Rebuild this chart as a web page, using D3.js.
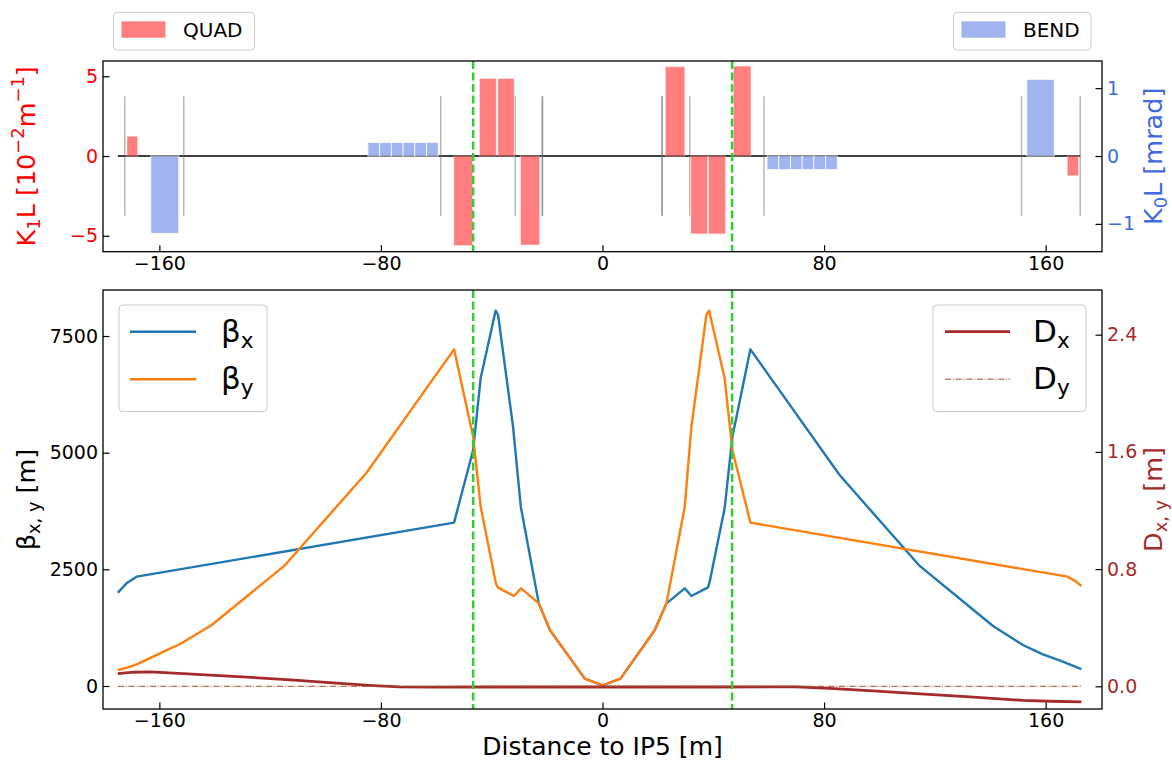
<!DOCTYPE html>
<html>
<head>
<meta charset="utf-8">
<script src="https://cdn.jsdelivr.net/npm/d3@7"></script>
<style>
  html, body { margin: 0; padding: 0; background: #ffffff; }
  svg { display: block; font-family: "DejaVu Sans", sans-serif; }
</style>
</head>
<body>
<script>
// ---------------- DATA ----------------
const xTicks = [-160, -80, 0, 80, 160];
const k1Ticks = [-5, 0, 5];
const k0Ticks = [-1, 0, 1];
const betaTicks = [0, 2500, 5000, 7500];
const dispTicks = [0, 0.8, 1.6, 2.4];

// Quadrupoles (K1L, 10^-2 m^-1)
const quadStart = [-171.7, -53.7, -44.4, -37.8, -29.6, 22.7, 31.9, 38.3, 47.3, 167.8];
const quadEnd   = [-167.8, -46.9, -38.4, -31.9, -22.7, 29.7, 37.9, 44.4, 53.6, 171.9];
const quadK1L   = [1.24, -5.62, 4.86, 4.86, -5.58, 5.6, -4.88, -4.88, 5.64, -1.24];

// Bends (K0L, mrad)
const bendStart = [-163.1, -84.7, -80.47, -76.23, -72.0, -67.77, -63.53, 59.4, 63.63, 67.87, 72.1, 76.33, 80.57, 153.2];
const bendEnd   = [-153.0, -80.47, -76.23, -72.0, -67.77, -63.53, -59.3, 63.63, 67.87, 72.1, 76.33, 80.57, 84.8, 163.1];
const bendK0L   = [-1.14, 0.2, 0.2, 0.2, 0.2, 0.2, 0.2, -0.2, -0.2, -0.2, -0.2, -0.2, -0.2, 1.13];

// Marker positions (duplicates overlap)
const markerPos = [-172.5, -151.2, -58.4, -31.5, -21.7, -21.7, 21.5, 21.5, 31.5, 58.3, 151.3, 172.5];
const markerHalf = 3.75;              // in K1L units
const latticeRange = [-175, 172.5];
const ipMarkers = [-46.7, 46.8];

// Beta functions
const betaXs = [-175, -171.6, -168.2, -53.6, -46.7, -44.0, -38.6, -37.7, -32.3, -29.5, -23.0, -19.0, -6.4, 0, 6.5, 18.9, 23.1, 29.7, 32.1, 38.1, 38.7, 44.1, 46.9, 53.4, 85.6, 114.3, 141.0, 151.8, 159.0, 166.2, 172.9];
const betaX  = [2000, 2214, 2343, 3500, 5057, 6593, 8043, 7950, 5557, 3843, 1771, 1200, 157, 14, 157, 1200, 1771, 2093, 1929, 2114, 2236, 3807, 5343, 7214, 4521, 2586, 1286, 879, 679, 521, 364];
const betaYs = [-175, -171.6, -168.2, -159.8, -152.5, -141.1, -114.7, -85.2, -53.6, -46.7, -44.0, -38.5, -37.7, -32.0, -29.4, -23.0, -19.0, -6.4, 0, 6.5, 18.9, 23.1, 29.7, 32.1, 37.5, 38.5, 44.1, 46.9, 53.4, 168.0, 171.0, 172.9];
const betaY  = [343, 393, 464, 700, 900, 1307, 2586, 4571, 7214, 5343, 3843, 2200, 2107, 1929, 2093, 1771, 1200, 157, 14, 157, 1200, 1771, 3843, 5557, 7950, 8043, 6593, 5057, 3500, 2343, 2236, 2143];

// Dispersion
const dispXs = [-175, -169.4, -163.4, -151.4, -133.4, -114, -97.3, -82.8, -73.2, -61, -40, 0, 40, 70, 82, 97.7, 113.3, 132.6, 151.8, 161.5, 172.9];
const dispX  = [0.087, 0.096, 0.098, 0.087, 0.068, 0.046, 0.023, 0.005, -0.004, -0.006, -0.005, -0.005, -0.005, -0.004, -0.014, -0.031, -0.050, -0.072, -0.096, -0.102, -0.107];
const dispYs = [-175, 172.9];
const dispY  = [0, 0];

// ---------------- LAYOUT ----------------
const W = 1172, H = 760;
const L = 103, R = 1102;
const topT = 61, topB = 251.7;
const botT = 290, botB = 709;
const tickFont = 19, labelFont = 25.5;

const svg = d3.select("body").append("svg").attr("width", W).attr("height", H);

const x = d3.scaleLinear().domain([-180.35, 180.35]).range([L, R]);
const yK1 = d3.scaleLinear().domain([-6.0, 5.96]).range([topB, topT]);
const yK0 = d3.scaleLinear().domain([-1.41, 1.40]).range([topB, topT]);
const yB  = d3.scaleLinear().domain([-493, 8486]).range([botB, botT]);
const yD  = d3.scaleLinear().domain([-0.155, 2.705]).range([botB, botT]);

function rich(sel, parts, F) {
  let cur = 0;
  parts.forEach(([t, m]) => {
    const target = m === "sub" ? 0.2 * F : (m === "sup" ? -0.4 * F : 0);
    sel.append("tspan").attr("dy", target - cur).attr("font-size", m === "n" ? F : 0.7 * F).text(t);
    cur = target;
  });
}

function styleAxis(g, color) {
  g.select(".domain").remove();
  g.selectAll(".tick line").attr("stroke", "#000").attr("stroke-width", 1.2);
  g.selectAll(".tick text").attr("fill", color).attr("font-size", tickFont).attr("font-family", "DejaVu Sans");
}

const TS = -6.5;
const ipStyle = sel => sel.attr("stroke", "#32cd32").attr("stroke-width", 2.5).attr("stroke-dasharray", "8,3.5");

// ---------------- TOP PANEL ----------------
const topG = svg.append("g");

topG.append("line")
  .attr("x1", x(latticeRange[0])).attr("x2", x(latticeRange[1]))
  .attr("y1", yK1(0)).attr("y2", yK1(0))
  .attr("stroke", "#000").attr("stroke-width", 1.6);

topG.selectAll(".marker").data(markerPos).join("line")
  .attr("x1", d => x(d)).attr("x2", d => x(d))
  .attr("y1", yK1(markerHalf)).attr("y2", yK1(-markerHalf))
  .attr("stroke", "#707070").attr("stroke-opacity", 0.5).attr("stroke-width", 1.5);

const bends = bendStart.map((s, i) => ({ s, e: bendEnd[i], v: bendK0L[i] }));
topG.selectAll(".bend").data(bends).join("rect")
  .attr("x", d => x(d.s)).attr("width", d => x(d.e) - x(d.s))
  .attr("y", d => Math.min(yK0(d.v), yK0(0)))
  .attr("height", d => Math.abs(yK0(d.v) - yK0(0)))
  .attr("fill", "royalblue").attr("fill-opacity", 0.5)
  .attr("stroke", "white").attr("stroke-opacity", 0.8).attr("stroke-width", 1);

const quads = quadStart.map((s, i) => ({ s, e: quadEnd[i], v: quadK1L[i] }));
topG.selectAll(".quad").data(quads).join("rect")
  .attr("x", d => x(d.s)).attr("width", d => x(d.e) - x(d.s))
  .attr("y", d => Math.min(yK1(d.v), yK1(0)))
  .attr("height", d => Math.abs(yK1(d.v) - yK1(0)))
  .attr("fill", "red").attr("fill-opacity", 0.5)
  .attr("stroke", "white").attr("stroke-opacity", 0.5).attr("stroke-width", 0.8);

topG.selectAll(".ip").data(ipMarkers).join("line")
  .attr("x1", d => x(d)).attr("x2", d => x(d))
  .attr("y1", topT).attr("y2", topB)
  .call(ipStyle);

topG.append("rect").attr("x", L).attr("y", topT).attr("width", R - L).attr("height", topB - topT)
  .attr("fill", "none").attr("stroke", "#000").attr("stroke-width", 1.3);

styleAxis(topG.append("g").attr("transform", `translate(0,${topB})`)
  .call(d3.axisBottom(x).tickValues(xTicks).tickSize(TS).tickPadding(5).tickFormat(d3.format("d"))), "#000");
styleAxis(topG.append("g").attr("transform", `translate(${L},0)`)
  .call(d3.axisLeft(yK1).tickValues(k1Ticks).tickSize(TS).tickPadding(5).tickFormat(d3.format("d"))), "red");
styleAxis(topG.append("g").attr("transform", `translate(${R},0)`)
  .call(d3.axisRight(yK0).tickValues(k0Ticks).tickSize(TS).tickPadding(5).tickFormat(d3.format("d"))), "royalblue");

rich(svg.append("text").attr("transform", `translate(34.5,${(topT + topB) / 2}) rotate(-90)`)
  .attr("text-anchor", "middle").attr("fill", "red").attr("font-size", labelFont),
  [["K", "n"], ["1", "sub"], ["L [10", "n"], ["\u22122", "sup"], ["m", "n"], ["\u22121", "sup"], ["]", "n"]], labelFont);
rich(svg.append("text").attr("transform", `translate(1161.5,${(topT + topB) / 2}) rotate(-90)`)
  .attr("text-anchor", "middle").attr("fill", "royalblue").attr("font-size", labelFont),
  [["K", "n"], ["0", "sub"], ["L [mrad]", "n"]], labelFont);

function patchLegend(bx, bw, color, label) {
  const g = svg.append("g");
  g.append("rect").attr("x", bx).attr("y", 12.3).attr("width", bw).attr("height", 37.7).attr("rx", 4)
    .attr("fill", "white").attr("fill-opacity", 0.8).attr("stroke", "#cccccc").attr("stroke-width", 1);
  g.append("rect").attr("x", bx + 8).attr("y", 21.3).attr("width", 44).attr("height", 16.4)
    .attr("fill", color).attr("fill-opacity", 0.5);
  g.append("text").attr("x", bx + 69.5).attr("y", 36.5).attr("font-size", 20).attr("fill", "#000").text(label);
}
patchLegend(113.5, 141, "red", "QUAD");
patchLegend(953.5, 137.5, "royalblue", "BEND");

// ---------------- BOTTOM PANEL ----------------
const botG = svg.append("g");

const lineB = (xs) => d3.line().x((d, i) => x(xs[i])).y(d => yB(d));
const lineD = (xs) => d3.line().x((d, i) => x(xs[i])).y(d => yD(d));

botG.append("path").datum(betaX).attr("d", lineB(betaXs))
  .attr("fill", "none").attr("stroke", "#1f77b4").attr("stroke-width", 2.4).attr("stroke-linejoin", "round");
botG.append("path").datum(betaY).attr("d", lineB(betaYs))
  .attr("fill", "none").attr("stroke", "#ff7f0e").attr("stroke-width", 2.4).attr("stroke-linejoin", "round");
botG.append("path").datum(dispX).attr("d", lineD(dispXs))
  .attr("fill", "none").attr("stroke", "#a52a2a").attr("stroke-width", 2.8).attr("stroke-linejoin", "round");
botG.append("path").datum(dispY).attr("d", lineD(dispYs))
  .attr("fill", "none").attr("stroke", "#a0522d").attr("stroke-width", 1).attr("stroke-dasharray", "6.4,1.6,1,1.6");

botG.selectAll(".ip").data(ipMarkers).join("line")
  .attr("x1", d => x(d)).attr("x2", d => x(d))
  .attr("y1", botT).attr("y2", botB)
  .call(ipStyle);

botG.append("rect").attr("x", L).attr("y", botT).attr("width", R - L).attr("height", botB - botT)
  .attr("fill", "none").attr("stroke", "#000").attr("stroke-width", 1.3);

styleAxis(botG.append("g").attr("transform", `translate(0,${botB})`)
  .call(d3.axisBottom(x).tickValues(xTicks).tickSize(TS).tickPadding(4.5).tickFormat(d3.format("d"))), "#000");
styleAxis(botG.append("g").attr("transform", `translate(${L},0)`)
  .call(d3.axisLeft(yB).tickValues(betaTicks).tickSize(TS).tickPadding(5).tickFormat(d3.format("d"))), "#000");
styleAxis(botG.append("g").attr("transform", `translate(${R},0)`)
  .call(d3.axisRight(yD).tickValues(dispTicks).tickSize(TS).tickPadding(5).tickFormat(d3.format(".1f"))), "#a52a2a");

rich(svg.append("text").attr("transform", `translate(34.5,${(botT + botB) / 2}) rotate(-90)`)
  .attr("text-anchor", "middle").attr("fill", "#000").attr("font-size", labelFont),
  [["\u03b2", "n"], ["x, y", "sub"], [" [m]", "n"]], labelFont);
rich(svg.append("text").attr("transform", `translate(1161.5,${(botT + botB) / 2}) rotate(-90)`)
  .attr("text-anchor", "middle").attr("fill", "#a52a2a").attr("font-size", labelFont),
  [["D", "n"], ["x, y", "sub"], [" [m]", "n"]], labelFont);

svg.append("text").attr("x", 602.5).attr("y", 754.5).attr("text-anchor", "middle")
  .attr("font-size", 25).attr("fill", "#000").text("Distance to IP5 [m]");

function lineLegend(bx, bw, lx1, lx2, tx, entries) {
  const g = svg.append("g");
  g.append("rect").attr("x", bx).attr("y", 305).attr("width", bw).attr("height", 106.5).attr("rx", 4)
    .attr("fill", "white").attr("fill-opacity", 0.8).attr("stroke", "#cccccc").attr("stroke-width", 1);
  entries.forEach((e, i) => {
    const cy = 331.7 + i * 47.5;
    g.append("line").attr("x1", lx1).attr("x2", lx2).attr("y1", cy).attr("y2", cy)
      .attr("stroke", e.color).attr("stroke-width", e.w).attr("stroke-dasharray", e.dash || null);
    rich(g.append("text").attr("x", tx).attr("y", cy + 9.8).attr("fill", "#000").attr("font-size", 31),
      [[e.main, "n"], [e.sub, "sub"]], 31);
  });
}
lineLegend(119, 148, 130, 196, 221, [
  { color: "#1f77b4", w: 2.4, main: "\u03b2", sub: "x" },
  { color: "#ff7f0e", w: 2.4, main: "\u03b2", sub: "y" }
]);
lineLegend(933, 153, 945, 1010, 1033, [
  { color: "#a52a2a", w: 2.8, main: "D", sub: "x" },
  { color: "#a0522d", w: 1, dash: "6.4,1.6,1,1.6", main: "D", sub: "y" }
]);
</script>
</body>
</html>
